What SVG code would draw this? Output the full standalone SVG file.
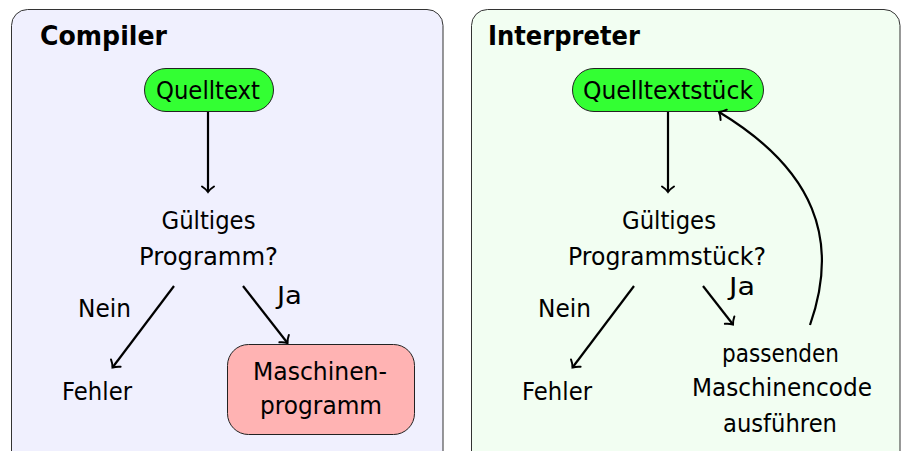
<svg xmlns="http://www.w3.org/2000/svg" width="901" height="451" viewBox="0 0 901 451">
  <style>
    .panel { stroke: #333333; stroke-width: 1; }
    .title { font-family: "DejaVu Sans", "Liberation Sans", sans-serif; font-weight: bold; font-size: 27px; fill: #000; }
    .lbl { font-family: "DejaVu Sans", "Liberation Sans", sans-serif; font-size: 25px; fill: #000; }
    .mid { text-anchor: middle; }
    .start { fill: #33ff33; stroke: #222; stroke-width: 1; }
    .result { fill: #ffb3b3; stroke: #222; stroke-width: 1; }
    .edge { fill: none; stroke: #000; stroke-width: 2.2; marker-end: url(#to); }
  </style>
  <defs>
    <marker id="to" markerUnits="userSpaceOnUse" orient="auto" markerWidth="16" markerHeight="16" viewBox="-8 -8 16 16" refX="0" refY="0" overflow="visible">
      <path d="M-5.5,-6 C-3.5,-2.8 -1.2,-0.9 0,0 C-1.2,0.9 -3.5,2.8 -5.5,6" fill="none" stroke="#000" stroke-width="2" stroke-linecap="round"/>
    </marker>
  </defs>

  <!-- Compiler panel -->
  <g id="compiler-panel">
    <rect class="panel" x="11.5" y="9.5" width="431.5" height="460" rx="16" fill="#f0f0fe"/>
    <text class="title" x="40" y="45" textLength="127" lengthAdjust="spacingAndGlyphs">Compiler</text>
  </g>

  <!-- Interpreter panel -->
  <g id="interpreter-panel">
    <rect class="panel" x="471.5" y="9.5" width="428.5" height="460" rx="16" fill="#f2fef2"/>
    <text class="title" x="488" y="45" textLength="152" lengthAdjust="spacingAndGlyphs">Interpreter</text>
  </g>

  <!-- Compiler nodes -->
  <g id="c-source">
    <rect class="start" x="144.5" y="68.5" width="129" height="43" rx="21.5"/>
    <text class="lbl mid" x="208" y="98.5" textLength="104" lengthAdjust="spacingAndGlyphs">Quelltext</text>
  </g>
  <g id="c-check">
    <text class="lbl mid" x="208.5" y="229" textLength="94" lengthAdjust="spacingAndGlyphs">Gültiges</text>
    <text class="lbl mid" x="208.5" y="265" textLength="139" lengthAdjust="spacingAndGlyphs">Programm?</text>
  </g>
  <g id="c-error">
    <text class="lbl" x="62" y="400" textLength="70" lengthAdjust="spacingAndGlyphs">Fehler</text>
  </g>
  <g id="c-machine">
    <rect class="result" x="227.5" y="344.5" width="187" height="90" rx="21"/>
    <text class="lbl mid" x="320" y="380" textLength="134" lengthAdjust="spacingAndGlyphs">Maschinen-</text>
    <text class="lbl mid" x="321" y="414" textLength="122" lengthAdjust="spacingAndGlyphs">programm</text>
  </g>

  <!-- Interpreter nodes -->
  <g id="i-source">
    <rect class="start" x="572.5" y="68.5" width="191" height="43" rx="21.5"/>
    <text class="lbl mid" x="668" y="98.5" textLength="170" lengthAdjust="spacingAndGlyphs">Quelltextstück</text>
  </g>
  <g id="i-check">
    <text class="lbl mid" x="669" y="229" textLength="94" lengthAdjust="spacingAndGlyphs">Gültiges</text>
    <text class="lbl mid" x="667" y="265" textLength="198" lengthAdjust="spacingAndGlyphs">Programmstück?</text>
  </g>
  <g id="i-error">
    <text class="lbl" x="522" y="400" textLength="70" lengthAdjust="spacingAndGlyphs">Fehler</text>
  </g>
  <g id="i-run">
    <text class="lbl mid" x="780.5" y="362" textLength="117" lengthAdjust="spacingAndGlyphs">passenden</text>
    <text class="lbl mid" x="782" y="396" textLength="180" lengthAdjust="spacingAndGlyphs">Maschinencode</text>
    <text class="lbl mid" x="780" y="432" textLength="114" lengthAdjust="spacingAndGlyphs">ausführen</text>
  </g>

  <!-- Connectors -->
  <g id="connectors">
    <line class="edge" x1="208" y1="112" x2="208" y2="192"/>
    <line class="edge" x1="174" y1="286" x2="112.5" y2="367.5"/>
    <line class="edge" x1="243" y1="286" x2="287.5" y2="343"/>
    <text class="lbl" x="78" y="317" textLength="53" lengthAdjust="spacingAndGlyphs">Nein</text>
    <text class="lbl" x="277" y="304" textLength="25" lengthAdjust="spacingAndGlyphs">Ja</text>

    <line class="edge" x1="668" y1="112" x2="668" y2="192"/>
    <line class="edge" x1="634" y1="286" x2="572.5" y2="367.5"/>
    <line class="edge" x1="703" y1="286" x2="733" y2="324.5"/>
    <path class="edge" d="M810,325 C840,240 815,170 719,112"/>
    <text class="lbl" x="538" y="317" textLength="53" lengthAdjust="spacingAndGlyphs">Nein</text>
    <text class="lbl" x="729" y="295" textLength="26" lengthAdjust="spacingAndGlyphs">Ja</text>
  </g>
</svg>
